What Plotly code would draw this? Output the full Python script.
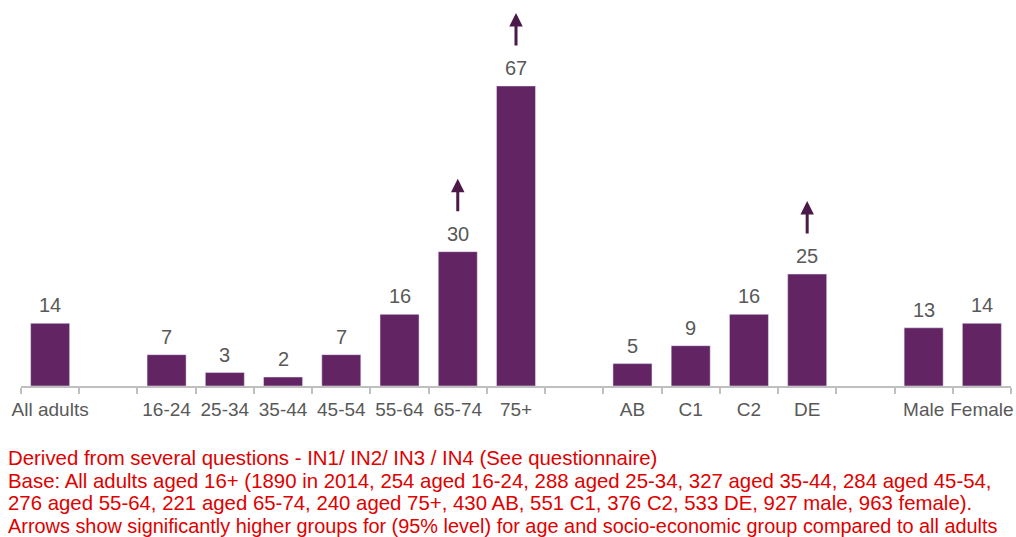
import plotly.graph_objects as go

categories = ["All adults", " ", "16-24", "25-34", "35-44", "45-54", "55-64", "65-74", "75+",
              "  ", "AB", "C1", "C2", "DE", "   ", "Male", "Female"]
values = [14, None, 7, 3, 2, 7, 16, 30, 67, None, 5, 9, 16, 25, None, 13, 14]
sig_higher = ["65-74", "75+", "DE"]

footer_lines = [
    "Derived from several questions - IN1/ IN2/ IN3 / IN4 (See questionnaire)",
    "Base: All adults aged 16+ (1890 in 2014, 254 aged 16-24, 288 aged 25-34, 327 aged 35-44, 284 aged 45-54,",
    "276 aged 55-64, 221 aged 65-74, 240 aged 75+, 430 AB, 551 C1, 376 C2, 533 DE, 927 male, 963 female).",
    "Arrows show significantly higher groups for (95% level) for age and socio-economic group compared to all adults",
]
footer_sizes = [20.4, 20.4, 20.4, 19.9]

W, H = 1016, 537
ML, MR, MT, MB = 21, 5, 0, 151
BAR = "#632463"
GREY = "#595959"
FONT = "Liberation Sans, Arial, sans-serif"

fig = go.Figure()
fig.add_trace(go.Bar(x=categories, y=values, marker_color=BAR, width=0.67,
                     hoverinfo="skip", cliponaxis=False))

ann = []
for c, v in zip(categories, values):
    if v is None:
        continue
    ann.append(dict(x=c, y=v, xref="x", yref="y", text=str(v), showarrow=False,
                    yanchor="bottom", yshift=5, font=dict(size=20, color=GREY, family=FONT)))
    if c in sig_higher:
        ann.append(dict(x=c, y=v, xref="x", yref="y", text="", showarrow=True,
                        ax=0, ay=34, yshift=73, arrowhead=2, arrowsize=0.9,
                        arrowwidth=3, arrowcolor="#4b1a49", standoff=0))

plot_h = H - MT - MB
plot_w = W - ML - MR
for line, py, fs in zip(footer_lines, [458, 481, 503, 526], footer_sizes):
    ann.append(dict(xref="paper", yref="paper", x=(6 - ML) / plot_w, y=(H - MB - py) / plot_h,
                    xanchor="left", yanchor="middle", text=line, showarrow=False,
                    font=dict(size=fs, color="#e00000", family=FONT)))

fig.update_layout(
    width=W, height=H, margin=dict(l=ML, r=MR, t=MT, b=MB, autoexpand=False),
    paper_bgcolor="white", plot_bgcolor="white", showlegend=False,
    annotations=ann, bargap=0.33,
    xaxis=dict(type="category", categoryorder="array", categoryarray=categories,
               range=[-0.5, len(categories) - 0.5], showline=True, linecolor="#bfbfbf",
               linewidth=2, ticks="outside", tickson="boundaries", ticklen=6,
               tickcolor="#bfbfbf", tickwidth=2, showgrid=False, zeroline=False,
               tickangle=0, automargin=False, ticklabelstandoff=5,
               tickfont=dict(size=19, color=GREY, family=FONT), fixedrange=True),
    yaxis=dict(range=[0, 86.2], visible=False, showgrid=False, zeroline=False, fixedrange=True),
)

fig.write_html("out.html", config={"displayModeBar": False})
